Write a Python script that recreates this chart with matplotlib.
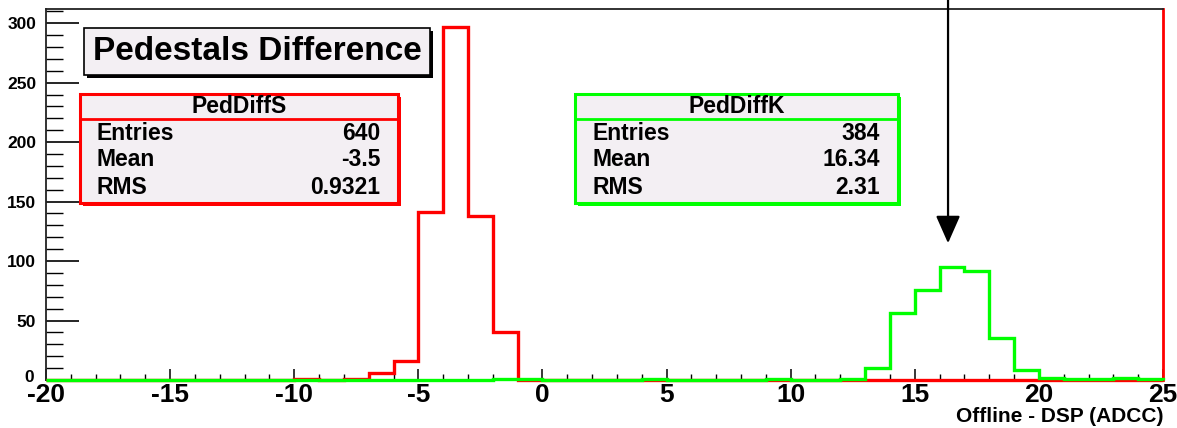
import numpy as np
import matplotlib
matplotlib.use("Agg")
import matplotlib.pyplot as plt
from matplotlib.patches import Rectangle
from matplotlib.ticker import MultipleLocator, FuncFormatter
import matplotlib.transforms as mtransforms

plt.rcParams['font.family'] = ['Liberation Sans', 'DejaVu Sans']
plt.rcParams['font.weight'] = 'bold'
plt.rcParams['axes.unicode_minus'] = False

# Histogram binning: 45 bins of width 1 from -20 to 25
bin_edges = np.arange(-20, 26, 1)

# PedDiffS (red): counts per bin, keyed by bin low edge
ped_diff_s = {-10: 1, -8: 1, -7: 6, -6: 16, -5: 141, -4: 297, -3: 138, -2: 40}
# PedDiffK (green)
ped_diff_k = {-2: 1, -1: 1, 4: 1, 9: 1, 12: 1, 13: 10, 14: 56, 15: 76, 16: 95,
              17: 92, 18: 35, 19: 8, 20: 2, 21: 1, 22: 1, 23: 2, 24: 1}

stats_s = {"name": "PedDiffS", "Entries": "640", "Mean": "-3.5", "RMS": "0.9321"}
stats_k = {"name": "PedDiffK", "Entries": "384", "Mean": "16.34", "RMS": "2.31"}
title = "Pedestals Difference"
xlabel = "Offline - DSP (ADCC)"
arrow_x = 16.34
arrow_tip_y = 115


def counts(d):
    c = np.zeros(len(bin_edges) - 1)
    for lo, v in d.items():
        c[lo - bin_edges[0]] = v
    return c


W, H = 1177, 428
fig = plt.figure(figsize=(W / 100, H / 100), dpi=100)
ax = fig.add_axes([46 / W, 1 - 380 / H, (1163 - 46) / W, (380 - 9) / H])

red = "#ff0000"
green = "#00ff00"
ax.stairs(counts(ped_diff_s), bin_edges, color=red, lw=2.4, baseline=0,
          clip_on=False, zorder=4)
ax.stairs(counts(ped_diff_k), bin_edges, color=green, lw=2.4, baseline=0,
          clip_on=False, zorder=5)

ax.set_xlim(-20, 25)
ax.set_ylim(0, 311.9)

ax.xaxis.set_major_locator(MultipleLocator(5))
ax.xaxis.set_minor_locator(MultipleLocator(1))
ax.yaxis.set_major_locator(MultipleLocator(50))
ax.yaxis.set_minor_locator(MultipleLocator(10))
fmt = FuncFormatter(lambda v, p: f"{int(round(v))}")
ax.xaxis.set_major_formatter(fmt)
ax.yaxis.set_major_formatter(fmt)

ax.tick_params(axis='x', which='major', direction='in', length=8, width=1.1,
               labelsize=19, pad=2)
ax.tick_params(axis='x', which='minor', direction='in', length=4, width=1.0)
ax.tick_params(axis='y', which='major', direction='in', length=24, width=1.2,
               labelsize=12.5, pad=7)
ax.tick_params(axis='y', which='minor', direction='in', length=12, width=1.0)

fig.canvas.draw()
for lab in ax.get_xticklabels() + ax.get_yticklabels():
    lab.set_fontweight('bold')
# lift the "0" of the y axis slightly so it sits above the x labels
for t in ax.yaxis.get_major_ticks():
    if abs(t.get_loc()) < 1e-9:
        t.label1.set_transform(t.label1.get_transform() +
                               mtransforms.ScaledTranslation(-2 / 100, 4 / 100,
                                                             fig.dpi_scale_trans))

for s in ['left', 'top', 'bottom']:
    ax.spines[s].set_linewidth(1.3)
    ax.spines[s].set_color('#222222')
ax.spines['right'].set_color(red)
ax.spines['right'].set_linewidth(2.0)

# x axis title, right-aligned under the axis
fig.text(1163 / W, 1 - 417 / H, xlabel, ha='right', va='center',
         fontsize=15, fontweight='bold')

# arrow marking the mean of PedDiffK
ax.annotate("", xy=(arrow_x, arrow_tip_y), xycoords='data',
            xytext=(arrow_x, 1.03), textcoords=('data', 'axes fraction'),
            arrowprops=dict(arrowstyle='-|>,head_length=1.7,head_width=0.75',
                            color='black', lw=1.6, shrinkA=0, shrinkB=0),
            annotation_clip=False)


def px_rect(x0, y0, x1, y1, **kw):
    r = Rectangle((x0 / W, 1 - y1 / H), (x1 - x0) / W, (y1 - y0) / H,
                  transform=fig.transFigure, **kw)
    fig.add_artist(r)
    return r


fill = "#f3eff3"

# title box with shadow
px_rect(87, 31, 433, 78, facecolor='black', edgecolor='none', zorder=5)
px_rect(84, 28, 430, 75, facecolor=fill, edgecolor='black', lw=1.2, zorder=6)
fig.text(257 / W, 1 - 51 / H, title, ha='center', va='center',
         fontsize=24, fontweight='bold', zorder=7)


def stats_box(x0, x1, color, st):
    y0, y1, ysep = 94, 203, 119
    px_rect(x0 + 3, y0 + 3, x1 + 3, y1 + 3, facecolor=color, edgecolor='none', zorder=5)
    px_rect(x0, y0, x1, y1, facecolor=fill, edgecolor=color, lw=2.2, zorder=6)
    fig.add_artist(plt.Line2D([x0 / W, x1 / W], [1 - ysep / H] * 2,
                              transform=fig.transFigure, color=color, lw=2.0, zorder=7))
    fig.text((x0 + x1) / 2 / W, 1 - 106.5 / H, st["name"], ha='center', va='center',
             fontsize=16.5, fontweight='bold', zorder=8)
    for i, key in enumerate(["Entries", "Mean", "RMS"]):
        yc = 133 + 27 * i
        fig.text((x0 + 17) / W, 1 - yc / H, key, ha='left', va='center',
                 fontsize=16.5, fontweight='bold', zorder=8)
        fig.text((x1 - 18) / W, 1 - yc / H, st[key], ha='right', va='center',
                 fontsize=16.5, fontweight='bold', zorder=8)


stats_box(80, 398, red, stats_s)
stats_box(575, 898, green, stats_k)

fig.savefig("out.png", dpi=100, facecolor='white')
